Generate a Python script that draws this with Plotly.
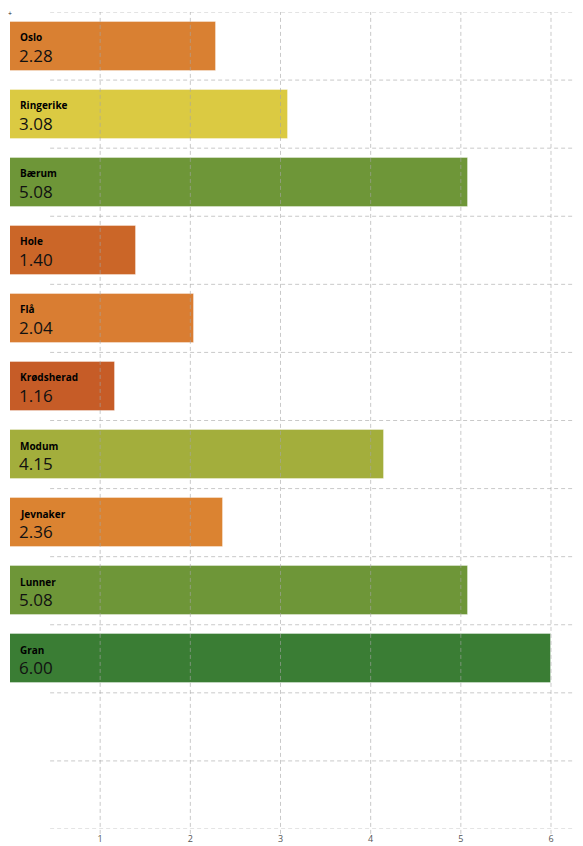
"""Horizontal bar chart of municipality scores."""

import plotly.graph_objects as go

# Data
NAMES = ['Oslo', 'Ringerike', 'Bærum', 'Hole', 'Flå', 'Krødsherad',
         'Modum', 'Jevnaker', 'Lunner', 'Gran']
VALUES = [2.28, 3.08, 5.08, 1.40, 2.04, 1.16, 4.15, 2.36, 5.08, 6.00]
COLORS = ['#D98032', '#DBCA42', '#6E9638', '#CB6628', '#D97D32', '#C65C27',
          '#A3AE3C', '#DB8331', '#6E9638', '#3A7D34']
X_TICKS = [1, 2, 3, 4, 5, 6]

N_SLOTS = 12  # ten bars plus two empty rows at the bottom
GRID = 'rgba(165,165,165,0.6)'
FONT = 'Open Sans, sans-serif'

fig = go.Figure()
fig.add_trace(go.Bar(
    x=VALUES, y=NAMES, orientation='h',
    width=0.72,
    marker=dict(color=COLORS, line=dict(color='rgba(255,255,255,0.35)', width=1)),
    hoverinfo='skip',
))

# labels inside bars
for name, val in zip(NAMES, VALUES):
    fig.add_annotation(x=0, y=name, xref='x', yref='y', text=f'<b>{name}</b>',
                       showarrow=False, xanchor='left', yanchor='middle',
                       xshift=8, yshift=9,
                       font=dict(family=FONT, size=10, color='#000'))
    fig.add_annotation(x=0, y=name, xref='x', yref='y', text=f'{val:.2f}',
                       showarrow=False, xanchor='left', yanchor='middle',
                       xshift=7, yshift=-9,
                       font=dict(family=FONT, size=17, color='#111'))

# horizontal dashed gridlines at row boundaries
for k in range(N_SLOTS + 1):
    fig.add_shape(type='line', xref='paper', yref='y', x0=0.07, x1=1,
                  y0=k - 0.5, y1=k - 0.5, layer='below',
                  line=dict(color=GRID, width=1, dash='4px,3px'))

# vertical dashed gridlines drawn over bars
for t in X_TICKS:
    fig.add_shape(type='line', xref='x', yref='paper', x0=t, x1=t,
                  y0=-0.006, y1=1, layer='above',
                  line=dict(color=GRID, width=1, dash='4px,3px'))

fig.add_annotation(x=0, y=1, xref='paper', yref='paper', text='+',
                   showarrow=False, xanchor='center', yanchor='middle',
                   yshift=-1, font=dict(family=FONT, size=7, color='#222'))

# page body has an 8px margin, so the figure is sized to fit the window
fig.update_layout(
    width=575, height=838,
    margin=dict(l=2, r=0, t=4, b=17),
    paper_bgcolor='white', plot_bgcolor='white',
    showlegend=False,
    bargap=0,
    xaxis=dict(range=[0, 6.355], tickvals=X_TICKS, showgrid=False,
               zeroline=False, showline=False, ticks='',
               ticklabelstandoff=3,
               tickfont=dict(family=FONT, size=9, color='#555')),
    yaxis=dict(categoryorder='array', categoryarray=NAMES,
               range=[N_SLOTS - 0.5, -0.5], autorange=False,
               showgrid=False, zeroline=False, showticklabels=False,
               showline=False, ticks=''),
)

fig.write_html('out.html')
